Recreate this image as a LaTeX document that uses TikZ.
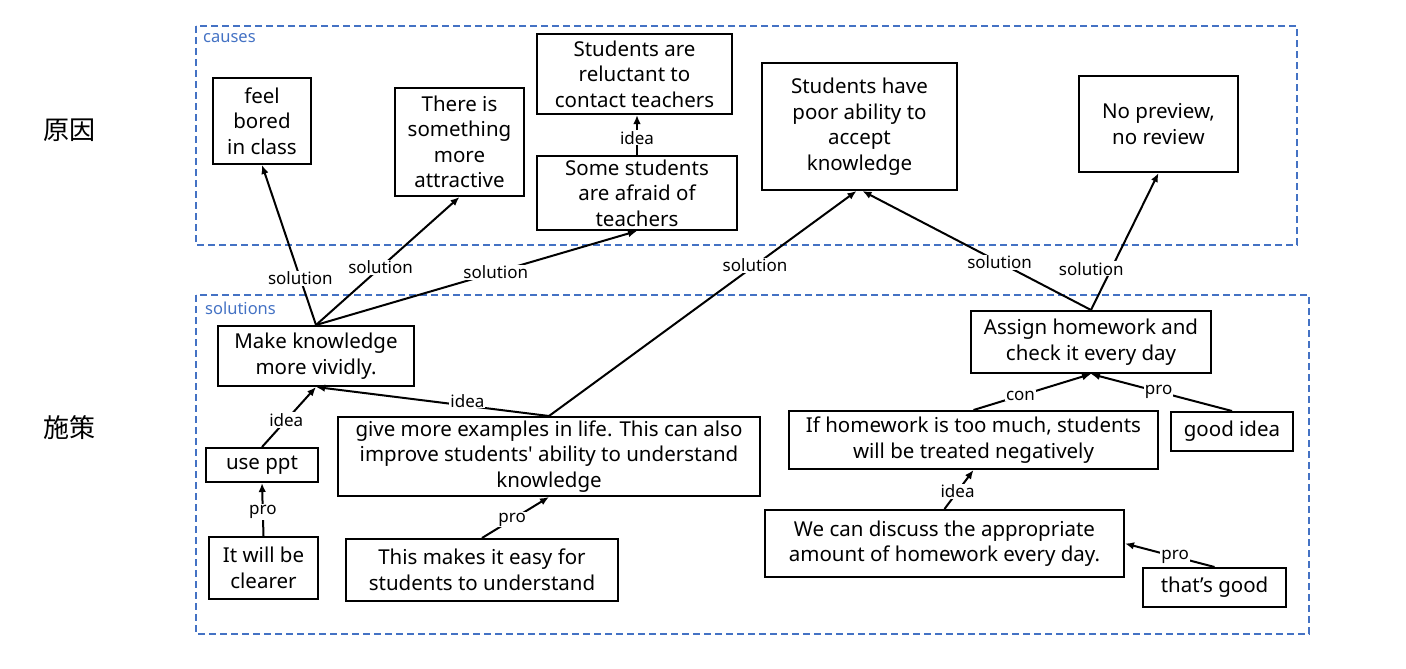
\documentclass[tikz,border=0pt]{standalone}
\usepackage{fontspec}
\setmainfont{Noto Sans}
\newfontfamily\jpfont{Noto Sans CJK JP}
\usetikzlibrary{arrows.meta}
\definecolor{grpblue}{HTML}{4472C4}
\tikzset{
 box/.style={draw=black, line width=2pt, align=center, inner sep=0pt, font=\fontsize{20.5}{25.5}\selectfont},
 grp/.style={draw=grpblue, line width=1.8pt, dash pattern=on 7pt off 4pt},
 grplbl/.style={text=grpblue, font=\fontsize{16.5}{18}\selectfont, anchor=west, inner sep=0pt},
 conn/.style={line width=2pt, -{Latex[length=9pt,width=7.5pt]}},
 lbl/.style={fill=white, inner sep=1pt, font=\fontsize{17}{19}\selectfont},
 side/.style={font=\jpfont\fontsize{26}{30}\selectfont}
}
\newcommand\bx[6]{%
 \pgfmathsetmacro\bxw{#4-#2}\pgfmathsetmacro\bxh{#5-#3}%
 \node[box, minimum width=\bxw pt, minimum height=\bxh pt] (#1) at ({(#2+#4)/2},{(#3+#5)/2}) {#6};}
\begin{document}
\begin{tikzpicture}[x=1pt,y=-1pt]
\useasboundingbox (0,0) rectangle (1406,669);
\draw[grp] (196,26) rectangle (1297,245);
\draw[grp] (196,295) rectangle (1309,634);
\node[grplbl] (causeslbl) at (203,38) {causes};
\node[grplbl] (solutionslbl) at (205,308) {solutions};
\node[side] (yuanyin) at (69,130) {原因};
\node[side] (shice) at (69,428) {施策};
\bx{feel}{213}{78}{311}{164}{feel\\bored\\in class}
\bx{there}{395}{88}{524}{196}{There is\\something\\more\\attractive}
\bx{reluct}{537}{34}{732}{114}{Students are\\reluctant to\\contact teachers}
\bx{afraid}{537}{156}{737}{230}{Some students\\are afraid of\\teachers}
\bx{poor}{762}{63}{957}{190}{Students have\\poor ability to\\accept\\knowledge}
\bx{nopre}{1079}{76}{1238}{172}{No preview,\\no review}
\bx{mk}{218}{326}{414}{386}{Make knowledge\\more vividly.}
\bx{ppt}{206}{448}{318}{482}{use ppt}
\bx{clear}{209}{537}{318}{599}{It will be\\clearer}
\bx{give}{338}{417}{760}{496}{give more examples in life. This can also\\improve students\textquotesingle\ ability to understand\\knowledge}
\bx{easy}{346}{539}{618}{601}{This makes it easy for\\students to understand}
\bx{assign}{971}{311}{1211}{373}{Assign homework and\\check it every day}
\bx{ifhw}{789}{411}{1158}{469}{If homework is too much, students\\will be treated negatively}
\bx{good}{1171}{412}{1293}{451}{good idea}
\bx{wecan}{765}{510}{1124}{577}{We can discuss the appropriate\\amount of homework every day.}
\bx{tgood}{1143}{568}{1286}{607}{that’s good}
\draw[conn] (mk.north) -- node[lbl,pos=0.29]{solution} (feel.south);
\draw[conn] (mk.north) -- node[lbl,pos=0.45]{solution} (there.south);
\draw[conn] (mk.north) -- node[lbl,pos=0.56]{solution} (afraid.south);
\draw[conn] (give.north) -- node[lbl,pos=0.67]{solution} ([xshift=-3pt]poor.south);
\draw[conn] (assign.north) -- node[lbl,pos=0.4]{solution} ([xshift=3pt]poor.south);
\draw[conn] (assign.north) -- node[lbl,pos=0.3,xshift=-20pt]{solution} (nopre.south);
\draw[conn] (afraid.north) -- node[lbl,pos=0.43]{idea} (afraid.north |- reluct.south);
\draw[conn] (ppt.north) -- node[lbl,pos=0.45]{idea} (mk.south);
\draw[conn] (give.north) -- node[lbl,pos=0.35,yshift=5pt]{idea} (mk.south);
\draw[conn] (clear.north) -- node[lbl,pos=0.45]{pro} (ppt.south);
\draw[conn] (easy.north) -- node[lbl,pos=0.45]{pro} (give.south);
\draw[conn] (ifhw.north) -- node[lbl,pos=0.4]{con} (assign.south);
\draw[conn] (good.north) -- node[lbl,pos=0.52]{pro} (assign.south);
\draw[conn] (wecan.north) -- node[lbl,pos=0.45]{idea} (ifhw.south);
\draw[conn] (tgood.north) -- node[lbl,pos=0.44]{pro} (wecan.east);
\end{tikzpicture}
\end{document}
